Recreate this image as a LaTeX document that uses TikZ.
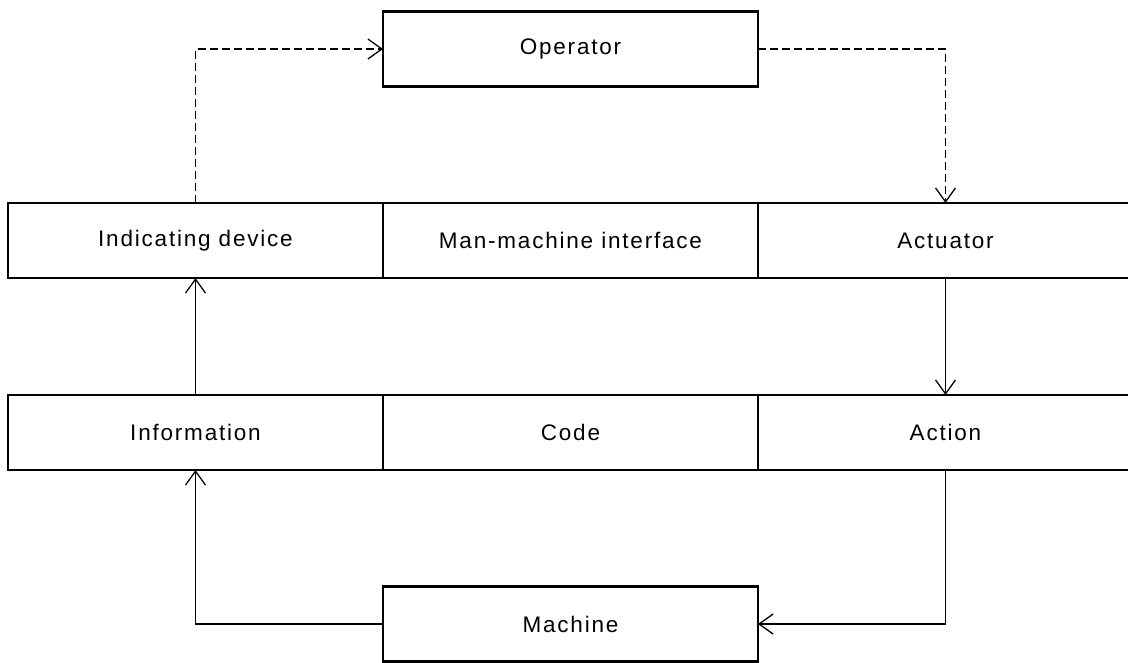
\documentclass[tikz,border=0pt]{standalone}
\usepackage{fontspec}
\setmainfont{Liberation Sans}[LetterSpace=8]
\usetikzlibrary{arrows.meta}

\begin{document}
\begin{tikzpicture}[x=1pt, y=-1pt, font=\fontsize{22.5}{27}\selectfont,
                    >={Straight Barb[length=14pt,width=20pt]}]
\def \lw {1.3pt}
  \tikzstyle{block} = [draw, black, fill=white, rectangle, minimum width=375pt,
                       minimum height=75pt, line width=\lw, inner sep=0, outer sep=0]
  \tikzstyle{bold block} = [block, line width=2.6pt]
  \tikzstyle{lines} = [black, line width=\lw, ->]
  \tikzstyle{lines dashed} = [lines, dash pattern=on 8pt off 4pt]

\useasboundingbox (0,0) rectangle (1128,662);

%%%%%%%%%%%%%%%%%%%%%%%%%%%%%%%%%%%%%%%%%%%%%%%%%%%%%%%%%%%%%%%%%%%%%%%%%%%%%%%

\coordinate (operator_pose) at (570.5, 49);
\coordinate (indicator_pose) at (195.5, 240.5);
\coordinate (mmi_pose) at (570.5, 240.5);
\coordinate (actuator_pose) at (945.5, 240.5);
\coordinate (info_pose) at (195.5, 432.5);
\coordinate (code_pose) at (570.5, 432.5);
\coordinate (action_pose) at (945.5, 432.5);
\coordinate (machine_pose) at (570.5, 624);

%%%%%%%%%%%%%%%%%%%%%%%%%%%%%%%%%%%%%%%%%%%%%%%%%%%%%%%%%%%%%%%%%%%%%%%%%%%%%%%

\node[bold block] (operator) at (operator_pose) {Operator};
\node[block] (indicator) at (indicator_pose) {Indicating device};
\node[block] (mmi) at (mmi_pose) {Man-machine interface};
\node[block] (actuator) at (actuator_pose) {Actuator};
\node[block] (info) at (info_pose) {Information};
\node[block] (code) at (code_pose) {Code};
\node[block] (action) at (action_pose) {Action};
\node[bold block] (machine) at (machine_pose) {Machine};

%%%%%%%%%%%%%%%%%%%%%%%%%%%%%%%%%%%%%%%%%%%%%%%%%%%%%%%%%%%%%%%%%%%%%%%%%%%%%%%

\draw[lines dashed] (indicator.north) |- (operator.west);
\draw[lines dashed] (operator.east) -| (actuator.north);

\draw[lines] (info.north) -- (indicator.south);
\draw[lines] (actuator.south) -- (action.north);

\draw[lines] (machine.west) -| (info.south);
\draw[lines] (action.south) |- (machine.east);

\end{tikzpicture}
\end{document}
